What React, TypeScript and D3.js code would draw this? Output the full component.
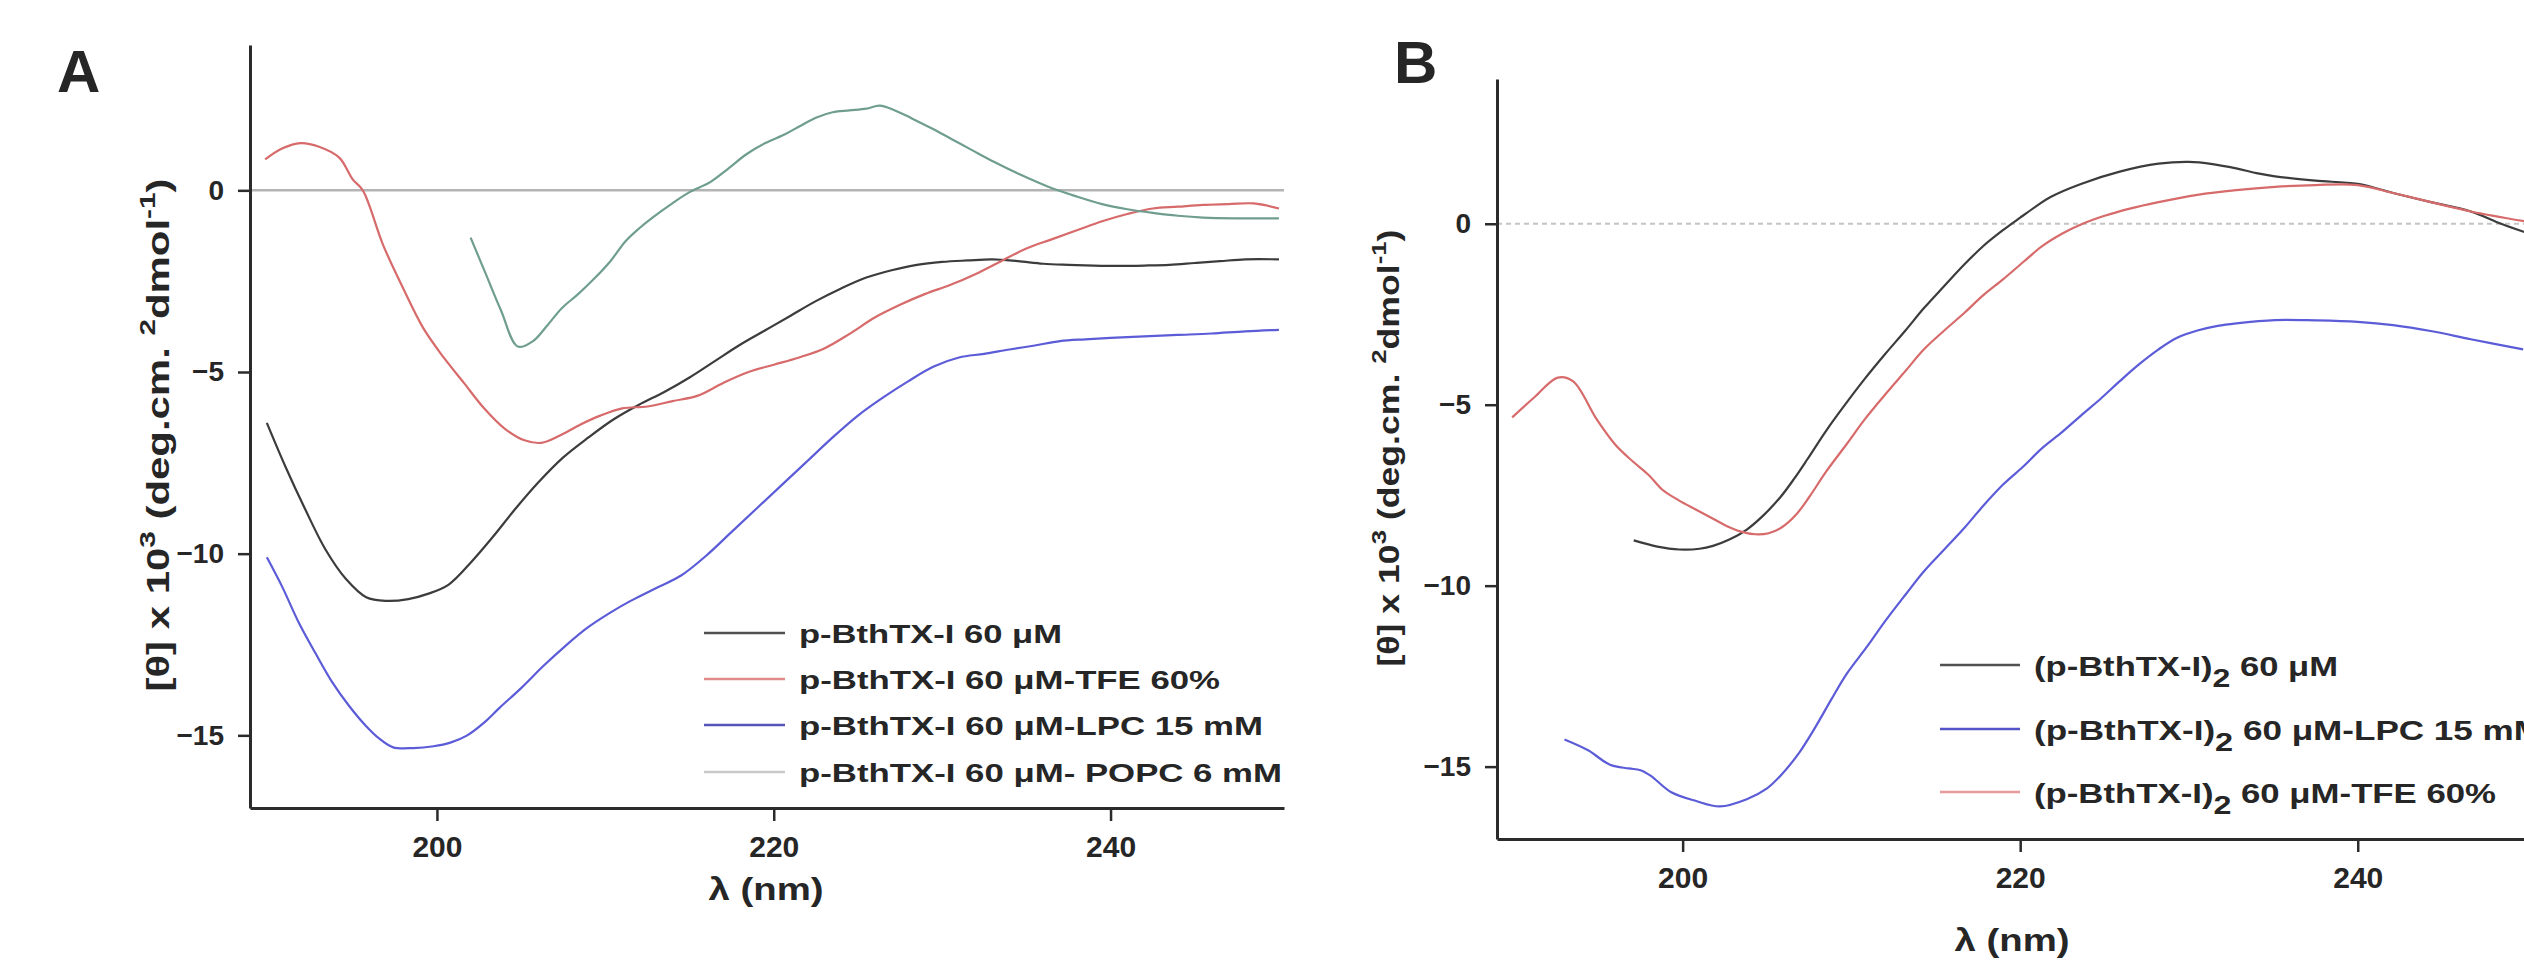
import { useEffect, useRef } from "react";
import * as d3 from "d3";

// ---- data (wavelength nm, [θ] x 10^3) ----
const xTicks = [200, 220, 240];
const yTicks = [0, -5, -10, -15];

const aNative = [
  [189.9, -6.4], [191.0, -7.6], [192.2, -8.8], [193.4, -9.9], [194.6, -10.7], [195.8, -11.2],
  [197.0, -11.3], [198.3, -11.25], [199.5, -11.1], [200.7, -10.85], [202.0, -10.25], [203.3, -9.55],
  [204.6, -8.8], [206.0, -8.05], [207.5, -7.35], [209.0, -6.8], [210.5, -6.3], [212.0, -5.9],
  [213.5, -5.55], [215.0, -5.15], [216.5, -4.7], [218.0, -4.25], [219.5, -3.85], [221.0, -3.45],
  [222.5, -3.05], [224.0, -2.7], [225.5, -2.4], [227.0, -2.2], [228.5, -2.05], [230.0, -1.97],
  [231.5, -1.93], [233.0, -1.9], [234.5, -1.95], [236.0, -2.02], [237.5, -2.05], [239.0, -2.07],
  [240.5, -2.08], [242.0, -2.07], [243.5, -2.05], [245.0, -2.0], [246.5, -1.95], [248.0, -1.9],
  [250.0, -1.9],
];
const aTfe = [
  [189.8, 0.85], [190.8, 1.15], [191.9, 1.3], [193.0, 1.2], [194.2, 0.9], [195.0, 0.3],
  [195.6, 0.0], [196.8, -1.5], [198.0, -2.7], [199.2, -3.8], [200.4, -4.6], [201.6, -5.3],
  [202.8, -6.0], [204.0, -6.55], [205.2, -6.88], [206.2, -6.95], [207.3, -6.75], [208.5, -6.45],
  [209.7, -6.2], [211.0, -6.0], [212.5, -5.95], [214.0, -5.8], [215.5, -5.65], [217.0, -5.3],
  [218.5, -5.0], [220.0, -4.8], [221.5, -4.6], [223.0, -4.35], [224.5, -3.95], [226.0, -3.5],
  [227.5, -3.15], [229.0, -2.85], [230.5, -2.6], [232.0, -2.3], [233.5, -1.95], [235.0, -1.6],
  [236.5, -1.35], [238.0, -1.1], [239.5, -0.85], [241.0, -0.65], [242.5, -0.5], [244.0, -0.45],
  [245.5, -0.4], [247.0, -0.38], [248.5, -0.36], [250.0, -0.5],
];
const aLpc = [
  [189.9, -10.1], [190.8, -10.9], [191.8, -11.9], [192.8, -12.75], [193.8, -13.55], [194.8, -14.2],
  [195.8, -14.75], [196.6, -15.1], [197.4, -15.33], [198.6, -15.35], [199.8, -15.3], [200.8, -15.2],
  [201.8, -15.0], [202.8, -14.65], [203.7, -14.25], [205.0, -13.7], [206.3, -13.1], [207.6, -12.55],
  [208.9, -12.05], [210.2, -11.65], [211.5, -11.3], [213.0, -10.95], [214.5, -10.6], [216.0, -10.05],
  [217.5, -9.4], [219.0, -8.75], [220.5, -8.1], [222.0, -7.45], [223.5, -6.8], [225.0, -6.2],
  [226.5, -5.7], [228.0, -5.25], [229.5, -4.85], [231.0, -4.6], [232.5, -4.5], [234.0, -4.38],
  [235.5, -4.27], [237.0, -4.15], [238.5, -4.1], [240.0, -4.06], [242.0, -4.02], [244.0, -3.98],
  [246.0, -3.94], [248.0, -3.88], [250.0, -3.84],
];
const aPopc = [
  [202.0, -1.3], [202.9, -2.3], [203.8, -3.3], [204.8, -4.3], [205.7, -4.15], [206.5, -3.75],
  [207.4, -3.25], [208.4, -2.85], [209.3, -2.45], [210.3, -1.95], [211.2, -1.4], [212.0, -1.05],
  [212.8, -0.75], [214.0, -0.35], [215.0, -0.05], [216.2, 0.22], [217.3, 0.6], [218.4, 1.0],
  [219.5, 1.3], [220.7, 1.55], [221.6, 1.78], [222.5, 2.0], [223.5, 2.15], [224.5, 2.2],
  [225.5, 2.25], [226.3, 2.33], [227.2, 2.2], [228.2, 1.98], [229.4, 1.7], [230.6, 1.4],
  [231.8, 1.1], [233.1, 0.78], [234.7, 0.42], [236.3, 0.1], [238.0, -0.17], [239.5, -0.38],
  [241.0, -0.52], [242.5, -0.62], [244.0, -0.7], [245.5, -0.75], [247.5, -0.77], [250.0, -0.77],
];

const bNative = [
  [197.1, -8.75], [198.5, -8.92], [199.8, -9.0], [201.0, -8.98], [201.8, -8.9], [202.8, -8.72],
  [203.8, -8.45], [204.8, -8.05], [205.8, -7.55], [206.6, -7.05], [207.4, -6.5], [208.5, -5.72],
  [209.7, -4.95], [210.8, -4.28], [212.0, -3.6], [213.2, -2.95], [214.3, -2.33], [215.5, -1.72],
  [216.7, -1.12], [217.8, -0.62], [219.0, -0.17], [220.0, 0.17], [221.0, 0.5], [221.8, 0.74],
  [223.6, 1.1], [225.9, 1.44], [228.2, 1.66], [230.0, 1.71], [231.4, 1.65], [232.8, 1.53],
  [234.0, 1.4], [235.1, 1.31], [237.5, 1.19], [240.0, 1.1], [242.1, 0.85], [244.4, 0.59],
  [246.7, 0.34], [248.5, 0.0], [250.0, -0.25],
];
const bLpc = [
  [193.0, -14.25], [194.4, -14.55], [195.7, -14.95], [196.8, -15.05], [197.5, -15.1], [198.1, -15.25],
  [199.3, -15.7], [200.8, -15.95], [202.2, -16.1], [203.8, -15.9], [205.0, -15.6], [205.8, -15.25],
  [206.9, -14.62], [207.9, -13.88], [208.8, -13.15], [209.7, -12.45], [210.9, -11.7], [212.0, -10.98],
  [213.2, -10.25], [214.3, -9.6], [215.5, -9.0], [216.7, -8.4], [217.8, -7.8], [219.0, -7.2],
  [220.2, -6.7], [221.3, -6.2], [222.5, -5.75], [223.6, -5.3], [224.8, -4.82], [225.9, -4.35],
  [227.0, -3.9], [228.2, -3.47], [229.3, -3.15], [230.5, -2.95], [231.7, -2.82], [232.8, -2.75],
  [235.1, -2.66], [237.5, -2.67], [240.0, -2.71], [242.1, -2.8], [244.4, -2.97], [246.7, -3.19],
  [249.8, -3.47],
];
const bTfe = [
  [189.9, -5.35], [191.2, -4.8], [192.6, -4.25], [193.5, -4.35], [194.9, -5.4], [196.0, -6.1],
  [197.0, -6.55], [198.0, -6.95], [198.8, -7.35], [199.8, -7.65], [200.8, -7.9], [201.8, -8.15],
  [202.6, -8.35], [203.4, -8.5], [204.3, -8.58], [205.1, -8.55], [205.9, -8.38], [206.7, -8.05],
  [207.5, -7.55], [208.5, -6.85], [209.7, -6.1], [210.8, -5.4], [212.0, -4.72], [213.2, -4.07],
  [214.3, -3.47], [215.5, -2.95], [216.7, -2.46], [217.8, -1.98], [219.0, -1.53], [220.2, -1.05],
  [221.3, -0.62], [222.5, -0.27], [223.6, -0.02], [225.0, 0.22], [226.5, 0.42], [228.2, 0.6],
  [230.5, 0.8], [232.8, 0.93], [235.1, 1.02], [237.5, 1.07], [240.0, 1.07], [242.1, 0.85],
  [244.4, 0.59], [246.7, 0.34], [250.0, 0.06],
];

const legendA = [
  "p-BthTX-I 60 \u03bcM",
  "p-BthTX-I 60 \u03bcM-TFE 60%",
  "p-BthTX-I 60 \u03bcM-LPC 15 mM",
  "p-BthTX-I 60 \u03bcM- POPC 6 mM",
];
const legendB = [
  " 60 \u03bcM",
  " 60 \u03bcM-LPC 15 mM",
  " 60 \u03bcM-TFE 60%",
];

const C_BLACK = "#3c3c3c";
const C_RED = "#d76a6a";
const C_BLUE = "#5c5cd8";
const C_TEAL = "#6f9e90";
const FONT = '"Liberation Sans", Arial, Helvetica, sans-serif';

type Pt = number[];

function Axes({ x, y, ox, oy }: { x: d3.ScaleLinear<number, number>; y: d3.ScaleLinear<number, number>; ox: number; oy: number }) {
  const gx = useRef<SVGGElement>(null);
  const gy = useRef<SVGGElement>(null);
  useEffect(() => {
    const ax = d3.select(gx.current!);
    ax.selectAll("*").remove();
    ax.call(d3.axisBottom(x).tickValues(xTicks).tickFormat(d3.format("d")).tickSize(13).tickSizeOuter(0).tickPadding(15));
    const ay = d3.select(gy.current!);
    ay.selectAll("*").remove();
    ay.call(d3.axisLeft(y).tickValues(yTicks).tickFormat(d3.format("d")).tickSize(12).tickSizeOuter(0).tickPadding(14));
    [ax, ay].forEach((g) => {
      g.select(".domain").attr("stroke", "#2b2b2b").attr("stroke-width", 3);
      g.selectAll(".tick line").attr("stroke", "#2b2b2b").attr("stroke-width", 2.5);
      g.selectAll(".tick text")
        .attr("fill", "#262626")
        .attr("font-family", FONT)
        .attr("font-weight", "bold");
    });
    ax.selectAll(".tick text").attr("font-size", 30);
    ay.selectAll(".tick text").attr("font-size", 28);
  }, [x, y]);
  return (
    <g>
      <g ref={gx} transform={`translate(0,${oy})`} />
      <g ref={gy} transform={`translate(${ox},0)`} />
    </g>
  );
}

const pathOf = (x: d3.ScaleLinear<number, number>, y: d3.ScaleLinear<number, number>) =>
  d3.line<Pt>().x((d) => x(d[0])).y((d) => y(d[1])).curve(d3.curveCatmullRom.alpha(0.5));

export default function App() {
  // panel A
  const xA = d3.scaleLinear().domain([188.9, 250.3]).range([250, 1284]);
  const yA = d3.scaleLinear().domain([-17, 4]).range([808, 45]);
  const lineA = pathOf(xA, yA);
  // panel B
  const xB = d3.scaleLinear().domain([189, 250]).range([1497, 2526.5]);
  const yB = d3.scaleLinear().domain([-17, 4]).range([839, 79]);
  const lineB = pathOf(xB, yB);

  const seriesA = [
    { d: aNative, c: C_BLACK },
    { d: aTfe, c: C_RED },
    { d: aLpc, c: C_BLUE },
    { d: aPopc, c: C_TEAL },
  ];
  const legendColA = ["#505050", "#e08a8a", "#5454b8", "#c9c9c9"];
  const legendLenA = [263, 421, 464, 483];
  const legendYA = [633, 679, 725, 772];

  const seriesB = [
    { d: bNative, c: C_BLACK },
    { d: bTfe, c: C_RED },
    { d: bLpc, c: C_BLUE },
  ];
  const legendColB = ["#505050", "#5454c8", "#e89a9a"];
  const legendLenB = [304, 509, 462];
  const legendYB = [665, 729, 792];

  const textStyle = { fontFamily: FONT, fontWeight: "bold" as const, fill: "#262626" };

  return (
    <svg
      width={2524}
      height={964}
      style={{ position: "absolute", left: 0, top: 0, display: "block", background: "#fff" }}
    >
      <rect width={2524} height={964} fill="#fff" />

      {/* ---------- panel A ---------- */}
      <text x={57} y={92} style={textStyle} fontSize={60} fill="#000">A</text>
      <line x1={xA(188.9)} x2={xA(250.3)} y1={yA(0)} y2={yA(0)} stroke="#b4b4b4" strokeWidth={2.5} />
      {seriesA.map((s, i) => (
        <path key={i} d={lineA(s.d) ?? ""} fill="none" stroke={s.c} strokeWidth={2.2} />
      ))}
      <Axes x={xA} y={yA} ox={250} oy={808} />
      <text
        transform={`translate(169,435) rotate(-90)`}
        textAnchor="middle"
        style={textStyle}
        fontSize={31}
        textLength={513}
        lengthAdjust="spacingAndGlyphs"
      >
        [θ] x 10<tspan dy={-14} fontSize={22}>3</tspan>
        <tspan dy={14}> (deg.cm. </tspan>
        <tspan dy={-14} fontSize={22}>2</tspan>
        <tspan dy={14}>dmol</tspan>
        <tspan dy={-14} fontSize={22}>-1</tspan>
        <tspan dy={14}>)</tspan>
      </text>
      <text x={766} y={900} textAnchor="middle" style={textStyle} fontSize={32} textLength={115} lengthAdjust="spacingAndGlyphs">
        λ (nm)
      </text>
      {legendA.map((t, i) => (
        <g key={i}>
          <line x1={704} x2={785} y1={legendYA[i]} y2={legendYA[i]} stroke={legendColA[i]} strokeWidth={2.5} />
          <text x={799} y={legendYA[i] + 10} style={textStyle} fontSize={26} textLength={legendLenA[i]} lengthAdjust="spacingAndGlyphs">
            {t}
          </text>
        </g>
      ))}

      {/* ---------- panel B ---------- */}
      <text x={1394} y={83} style={textStyle} fontSize={60} fill="#000">B</text>
      <line x1={xB(189)} x2={2524} y1={yB(0)} y2={yB(0)} stroke="#c4c4c4" strokeWidth={2} strokeDasharray="5 4" />
      {seriesB.map((s, i) => (
        <path key={i} d={lineB(s.d) ?? ""} fill="none" stroke={s.c} strokeWidth={2.2} />
      ))}
      <Axes x={xB} y={yB} ox={1497} oy={839} />
      <text
        transform={`translate(1399,448) rotate(-90)`}
        textAnchor="middle"
        style={textStyle}
        fontSize={29}
        textLength={437}
        lengthAdjust="spacingAndGlyphs"
      >
        [θ] x 10<tspan dy={-13} fontSize={21}>3</tspan>
        <tspan dy={13}> (deg.cm. </tspan>
        <tspan dy={-13} fontSize={21}>2</tspan>
        <tspan dy={13}>dmol</tspan>
        <tspan dy={-13} fontSize={21}>-1</tspan>
        <tspan dy={13}>)</tspan>
      </text>
      <text x={2012} y={951} textAnchor="middle" style={textStyle} fontSize={32} textLength={115} lengthAdjust="spacingAndGlyphs">
        λ (nm)
      </text>
      {legendB.map((t, i) => (
        <g key={i}>
          <line x1={1940} x2={2020} y1={legendYB[i]} y2={legendYB[i]} stroke={legendColB[i]} strokeWidth={2.5} />
          <text
            x={2034}
            y={legendYB[i] + 11}
            style={textStyle}
            fontSize={27}
            textLength={legendLenB[i]}
            lengthAdjust="spacingAndGlyphs"
          >
            (p-BthTX-I)<tspan dy={11} fontSize={25}>2</tspan>
            <tspan dy={-11}>{t}</tspan>
          </text>
        </g>
      ))}
    </svg>
  );
}
